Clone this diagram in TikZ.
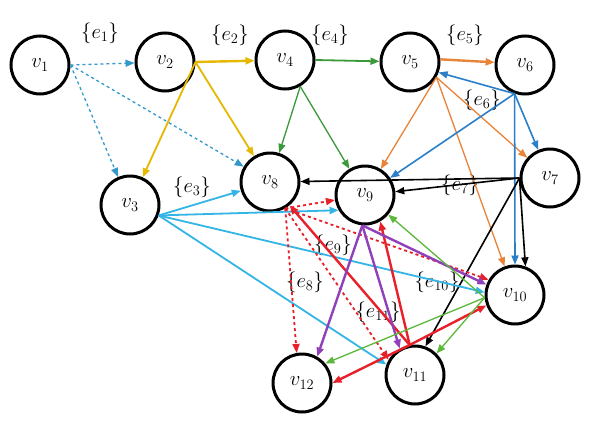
\documentclass[tikz,border=0pt]{standalone}
\usetikzlibrary{arrows.meta}
\definecolor{dblue}{HTML}{3399CC}
\definecolor{yel}{HTML}{E6B800}
\definecolor{grn}{HTML}{3A9A3A}
\definecolor{org}{HTML}{E8843A}
\definecolor{blu}{HTML}{2A7FC8}
\definecolor{cya}{HTML}{33B5E5}
\definecolor{rd}{HTML}{E8202A}
\definecolor{pur}{HTML}{9040B8}
\definecolor{lgrn}{HTML}{5CB83A}
\begin{document}
\begin{tikzpicture}[x=1pt,y=-1pt,
  vert/.style={circle,draw=black,line width=3pt,minimum size=58pt,inner sep=0pt,font=\huge},
  lab/.style={font=\huge},
  edge/.style={-{Triangle[length=9pt,width=7pt]},line width=1.3pt}]
\useasboundingbox (0,0) rectangle (600,434);
\fill[white] (0,0) rectangle (600,434);
\node[vert] (v1) at (40,65) {$v_1$};
\node[vert] (v2) at (165,62) {$v_2$};
\node[vert] (v4) at (285,60) {$v_4$};
\node[vert] (v5) at (410,62) {$v_5$};
\node[vert] (v6) at (525,65) {$v_6$};
\node[vert] (v7) at (550,178) {$v_7$};
\node[vert] (v8) at (270,182) {$v_8$};
\node[vert] (v9) at (365,195) {$v_9$};
\node[vert] (v3) at (130,205) {$v_3$};
\node[vert] (v10) at (515,295) {$v_{10}$};
\node[vert] (v11) at (415,375) {$v_{11}$};
\node[vert] (v12) at (302,383) {$v_{12}$};
\node[lab] (l1) at (100,33) {$\{e_1\}$};
\node[lab] (l2) at (230,35) {$\{e_2\}$};
\node[lab] (l4) at (330,35) {$\{e_4\}$};
\node[lab] (l5) at (465,35) {$\{e_5\}$};
\node[lab] (l6) at (482,100) {$\{e_6\}$};
\node[lab] (l7) at (460,185) {$\{e_7\}$};
\node[lab] (l3) at (192,187) {$\{e_3\}$};
\node[lab] (l9) at (333,245) {$\{e_9\}$};
\node[lab] (l8) at (305,282) {$\{e_8\}$};
\node[lab] (l10) at (437,282) {$\{e_{10}\}$};
\node[lab] (l11) at (378,312) {$\{e_{11}\}$};
\begin{scope}[edge]
\draw[dblue,dashed] (v1.east) -- (v2);
\draw[dblue,dashed] (v1.east) -- (v3);
\draw[dblue,dashed] (v1.east) -- (v8);
\draw[yel,line width=2.4pt] (v2.east) -- (v4);
\draw[yel,line width=1.8pt] (v2.east) -- (v3);
\draw[yel,line width=1.8pt] (v2.east) -- (v8);
\draw[grn,line width=1.8pt] (v4.east) -- (v5);
\draw[grn] (v4.-60) -- (v8);
\draw[grn] (v4.-60) -- (v9);
\draw[org,line width=2.4pt] (v5.5) -- (v6.175);
\draw[org] (v5.-30) -- (v9);
\draw[org] (v5.-30) -- (v7);
\draw[org] (v5.-30) -- (v10.110);
\draw[blu,line width=1.6pt] (v6.-110) -- (v5.-20);
\draw[blu,line width=1.6pt] (v6.-110) -- (v9);
\draw[blu,line width=1.6pt] (v6.-110) -- (v7);
\draw[blu,line width=1.6pt] (v6.-110) -- (v10.90);
\draw[black,line width=1.6pt] (v7.west) -- (v8);
\draw[black,line width=1.6pt] (v7.west) -- (v9);
\draw[black,line width=1.6pt] (v7.west) -- (v10.70);
\draw[black,line width=1.6pt] (v7.west) -- (v11.70);
\draw[cya,line width=1.8pt] (v3.-20) -- (v8);
\draw[cya,line width=1.8pt] (v3.-20) -- (v9.-150);
\draw[cya,line width=1.8pt] (v3.-20) -- (v10.175);
\draw[cya,line width=1.8pt] (v3.-20) -- (v11.160);
\draw[rd,dashed,line width=1.8pt] (v8.-60) -- (v9);
\draw[rd,dashed,line width=1.8pt] (v8.-60) -- (v10.150);
\draw[rd,dashed,line width=1.8pt] (v8.-60) -- (v12.100);
\draw[rd,dashed,line width=1.8pt] (v8.-60) -- (v11.150);
\draw[rd,line width=2.4pt] (v11.100) -- (v8.-50);
\draw[rd,line width=2.4pt] (v11.100) -- (v9.-60);
\draw[rd,line width=2.4pt] (v11.100) -- (v10.-160);
\draw[rd,line width=2.4pt] (v11.100) -- (v12.east);
\draw[pur,line width=2.4pt] (v9.-95) -- (v12.60);
\draw[pur,line width=2.4pt] (v9.-95) -- (v11.120);
\draw[pur,line width=2.4pt] (v9.-95) -- (v10.160);
\draw[lgrn] (v10.-175) -- (v9.-40);
\draw[lgrn] (v10.-175) -- (v11.45);
\draw[lgrn] (v10.-175) -- (v12.40);
\end{scope}
\end{tikzpicture}
\end{document}
